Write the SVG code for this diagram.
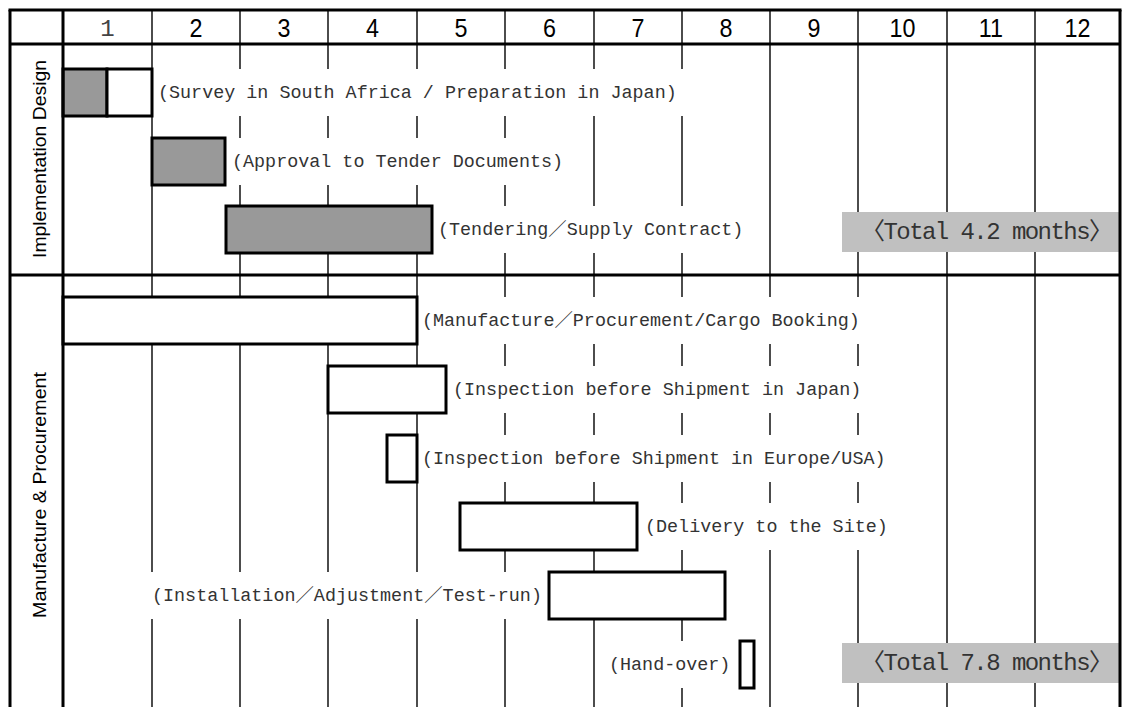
<svg xmlns="http://www.w3.org/2000/svg" width="1127" height="707" viewBox="0 0 1127 707">
<style>
.bg{fill:#ffffff}
.grid line{stroke:#000;stroke-width:1.4}
.frame line{stroke:#000;stroke-width:3}
.bar{stroke:#000;stroke-width:3}
.gray{fill:#999999}
.white{fill:#ffffff}
.lbl{font-family:"Liberation Mono","Noto Sans CJK JP",monospace;font-size:18.4px;fill:#333}
.tot{font-family:"Liberation Mono","Noto Sans CJK JP",monospace;font-size:24px;fill:#333}
.totbox{fill:#c0c0c0}
.hdr{font-family:"Liberation Sans",Arial,sans-serif;font-size:26.5px;fill:#000;text-anchor:middle}
.hdr1{font-family:"Liberation Mono",monospace;font-size:24px;fill:#444;text-anchor:middle}
.side{font-family:"Liberation Sans",Arial,sans-serif;font-size:19px;fill:#000;text-anchor:middle}
.tbg{fill:#ffffff}
</style>
<rect class="bg" x="0" y="0" width="1127" height="707"/>
<g id="grid" class="grid">
<line x1="152" y1="10" x2="152" y2="707"/>
<line x1="240" y1="10" x2="240" y2="707"/>
<line x1="328" y1="10" x2="328" y2="707"/>
<line x1="417" y1="10" x2="417" y2="707"/>
<line x1="505" y1="10" x2="505" y2="707"/>
<line x1="594" y1="10" x2="594" y2="707"/>
<line x1="682" y1="10" x2="682" y2="707"/>
<line x1="770" y1="10" x2="770" y2="707"/>
<line x1="858" y1="10" x2="858" y2="707"/>
<line x1="947" y1="10" x2="947" y2="707"/>
<line x1="1035" y1="10" x2="1035" y2="707"/>
</g>
<g id="header">
<text class="hdr1" x="107.5" y="36">1</text>
<g transform="scale(0.88,1)">
<text class="hdr" x="222.7" y="37">2</text>
<text class="hdr" x="322.7" y="37">3</text>
<text class="hdr" x="423.3" y="37">4</text>
<text class="hdr" x="523.9" y="37">5</text>
<text class="hdr" x="624.4" y="37">6</text>
<text class="hdr" x="725" y="37">7</text>
<text class="hdr" x="825" y="37">8</text>
<text class="hdr" x="925" y="37">9</text>
<text class="hdr" x="1025.6" y="37">10</text>
<text class="hdr" x="1126.1" y="37">11</text>
<text class="hdr" x="1224.4" y="37">12</text>
</g>
</g>
<g id="section-implementation">
<text class="side" transform="translate(45.5,159) rotate(-90)" x="0" y="0" textLength="198" lengthAdjust="spacingAndGlyphs">Implementation Design</text>
</g>
<g id="section-manufacture">
<text class="side" transform="translate(45.5,495) rotate(-90)" x="0" y="0" textLength="246" lengthAdjust="spacingAndGlyphs">Manufacture &amp; Procurement</text>
</g>
<g id="task-survey">
<rect class="bar gray" x="63" y="69" width="44" height="47"/>
<rect class="bar white" x="107" y="69" width="45" height="47"/>
<rect class="tbg" x="155" y="69" width="532" height="47"/>
<text class="lbl" x="158" y="98">(Survey in South Africa / Preparation in Japan)</text>
</g>
<g id="task-approval">
<rect class="bar gray" x="152" y="138" width="73" height="47"/>
<rect class="tbg" x="228" y="138" width="338" height="47"/>
<text class="lbl" x="232" y="167">(Approval to Tender Documents)</text>
</g>
<g id="task-tendering">
<rect class="bar gray" x="226" y="206" width="206" height="47"/>
<rect class="tbg" x="435" y="206" width="311" height="47"/>
<text class="lbl" x="438" y="235">(Tendering／Supply Contract)</text>
</g>
<g id="total-design">
<rect class="totbox" x="842" y="212" width="277" height="40"/>
<text class="tot" x="861" y="239" textLength="252" lengthAdjust="spacing">〈Total 4.2 months〉</text>
</g>
<g id="task-manufacture">
<rect class="bar white" x="63" y="297" width="354" height="47"/>
<rect class="tbg" x="420" y="297" width="447" height="47"/>
<text class="lbl" x="422" y="326">(Manufacture／Procurement/Cargo Booking)</text>
</g>
<g id="task-inspection-japan">
<rect class="bar white" x="328" y="366" width="118" height="47"/>
<rect class="tbg" x="449" y="366" width="415" height="47"/>
<text class="lbl" x="453" y="395">(Inspection before Shipment in Japan)</text>
</g>
<g id="task-inspection-europe">
<rect class="bar white" x="387" y="435" width="30" height="47"/>
<rect class="tbg" x="420" y="435" width="467" height="47"/>
<text class="lbl" x="422" y="464">(Inspection before Shipment in Europe/USA)</text>
</g>
<g id="task-delivery">
<rect class="bar white" x="460" y="503" width="177" height="47"/>
<rect class="tbg" x="640" y="503" width="248" height="47"/>
<text class="lbl" x="645" y="532">(Delivery to the Site)</text>
</g>
<g id="task-installation">
<rect class="tbg" x="149" y="572" width="396" height="47"/>
<text class="lbl" x="152" y="601">(Installation／Adjustment／Test-run)</text>
<rect class="bar white" x="549" y="572" width="176" height="47"/>
</g>
<g id="task-handover">
<rect class="tbg" x="605" y="641" width="132" height="47"/>
<text class="lbl" x="609" y="670">(Hand-over)</text>
<rect class="bar white" x="740" y="641" width="14" height="47"/>
</g>
<g id="total-manufacture">
<rect class="totbox" x="842" y="643" width="277" height="40"/>
<text class="tot" x="861" y="670" textLength="252" lengthAdjust="spacing">〈Total 7.8 months〉</text>
</g>
<g id="frame" class="frame">
<line x1="8.5" y1="10" x2="1121.5" y2="10"/>
<line x1="10" y1="10" x2="10" y2="707"/>
<line x1="1120" y1="10" x2="1120" y2="707"/>
<line x1="10" y1="44" x2="1120" y2="44"/>
<line x1="63" y1="10" x2="63" y2="707"/>
<line x1="10" y1="275" x2="1120" y2="275"/>
</g>
</svg>
